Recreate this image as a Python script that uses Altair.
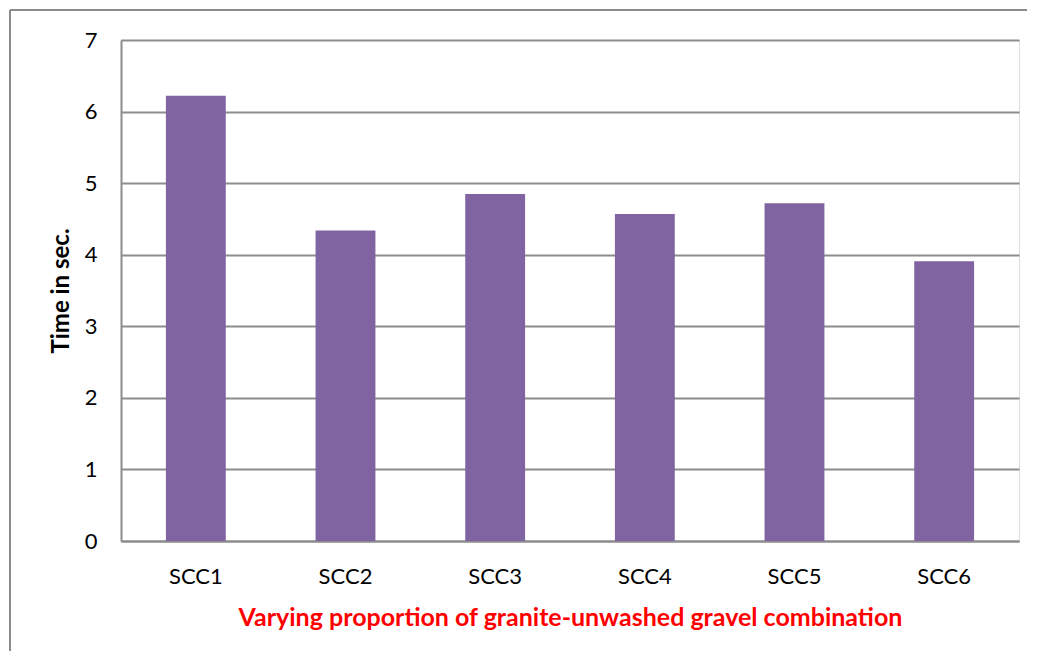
import altair as alt
import pandas as pd

categories = ["SCC1", "SCC2", "SCC3", "SCC4", "SCC5", "SCC6"]
values = [6.22, 4.34, 4.85, 4.57, 4.72, 3.91]

df = pd.DataFrame({"mix": categories, "time": values})

FONT = "Lato"

bars = alt.Chart(df).mark_bar(color="#8064A2").encode(
    x=alt.X("mix:N", sort=categories,
            scale=alt.Scale(paddingInner=0.6, paddingOuter=0.3),
            axis=alt.Axis(title="Varying proportion of granite-unwashed gravel combination",
                          labelAngle=0, labelFontSize=22, labelFont=FONT, labelColor="black",
                          labelPadding=25, ticks=False, domainColor="#8c8c8c", domainWidth=2,
                          titleFontSize=25, titleFont=FONT, titleColor="#ff0000",
                          titleFontWeight="bold", titlePadding=18)),
    y=alt.Y("time:Q", scale=alt.Scale(domain=[0, 7]),
            axis=alt.Axis(title="Time in sec.", values=[0, 1, 2, 3, 4, 5, 6, 7],
                          labelFontSize=22, labelFont=FONT, labelColor="black",
                          labelPadding=24, ticks=False, domainColor="#8c8c8c", domainWidth=2,
                          gridColor="#8c8c8c", gridWidth=2,
                          titleFontSize=24, titleFont=FONT, titleColor="black",
                          titleFontWeight="bold", titlePadding=11)),
)

frame = pd.DataFrame({"a": [0]})
top_line = alt.Chart(frame).mark_rule(color="#8c8c8c", strokeWidth=2).encode(
    x=alt.value(-111), x2=alt.value(906), y=alt.value(-30),
)
left_line = alt.Chart(frame).mark_rule(color="#8c8c8c", strokeWidth=2).encode(
    x=alt.value(-111), y=alt.value(-30), y2=alt.value(620),
)

chart = alt.layer(top_line, left_line, bars).properties(
    width=898, height=501,
    padding={"left": 113, "top": 32, "right": 10, "bottom": 110},
    autosize=alt.AutoSizeParams(type="none"),
).configure_view(stroke=None).configure(background="white")

chart.save("out.html", embed_options={"renderer": "svg", "actions": False})
